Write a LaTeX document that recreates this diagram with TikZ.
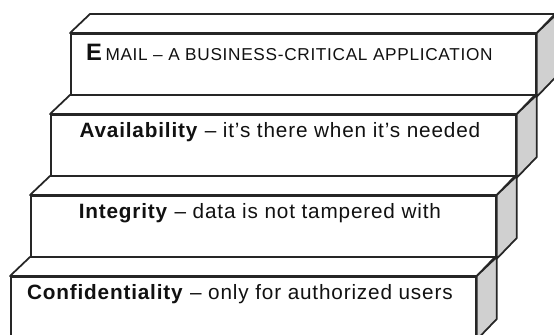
\documentclass[tikz,border=0pt]{standalone}
\usepackage{fontspec}
\setmainfont{Liberation Sans}[LetterSpace=4]
\usetikzlibrary{positioning}
\definecolor{color_edge}{HTML}{262626}
\definecolor{color_side}{HTML}{D0D0D0}
\definecolor{color_text}{HTML}{111111}
\tikzset{
  step_front/.style={draw=color_edge, line width=1pt, fill=white, minimum width=9.3cm, minimum height=1.24cm, inner sep=0pt, anchor=north west},
  step_top/.style={draw=color_edge, line width=1pt, fill=white, line join=round},
  step_side/.style={draw=color_edge, line width=1pt, fill=color_side, line join=round},
  step_text/.style={font=\fontsize{11.8}{14}\selectfont, text=color_text, inner sep=0pt},
}

\begin{document}
\begin{tikzpicture}
    \useasboundingbox (0,0) rectangle (11.08,-6.7);
    \clip (0,0) rectangle (11.08,-6.7);

    \node[step_front] (email)   at (1.40,-0.66) {};
    \node[step_front] (avail)   at (1.00,-2.28) {};
    \node[step_front] (integ)   at (0.60,-3.90) {};
    \node[step_front] (confid)  at (0.20,-5.52) {};

    \draw[step_top]  (email.north west) -- ++(0.4,0.38) -- ++(9.3,0) -- (email.north east) -- cycle;
    \draw[step_side] (email.north east) -- ++(0.4,0.38) -- ++(0,-1.24) -- (email.south east) -- cycle;
    \draw[step_top]  (avail.north west) -- ++(0.4,0.38) -- ++(9.3,0) -- (avail.north east) -- cycle;
    \draw[step_side] (avail.north east) -- ++(0.4,0.38) -- ++(0,-1.24) -- (avail.south east) -- cycle;
    \draw[step_top]  (integ.north west) -- ++(0.4,0.38) -- ++(9.3,0) -- (integ.north east) -- cycle;
    \draw[step_side] (integ.north east) -- ++(0.4,0.38) -- ++(0,-1.24) -- (integ.south east) -- cycle;
    \draw[step_top]  (confid.north west) -- ++(0.4,0.38) -- ++(9.3,0) -- (confid.north east) -- cycle;
    \draw[step_side] (confid.north east) -- ++(0.4,0.38) -- ++(0,-1.24) -- (confid.south east) -- cycle;

    \node[step_text] (email_text)  at ([xshift=-0.28cm, yshift=-0.38cm]email.north)
        {{\bfseries\fontsize{13.5}{15}\selectfont E}\,{\fontsize{9.8}{11}\selectfont MAIL – A BUSINESS-CRITICAL APPLICATION}};
    \node[step_text] (avail_text)  at ([xshift=-0.07cm, yshift=-0.36cm]avail.north)  {\textbf{Availability} – it's there when it's needed};
    \node[step_text] (integ_text)  at ([xshift=-0.07cm, yshift=-0.36cm]integ.north)  {\textbf{Integrity} – data is not tampered with};
    \node[step_text] (confid_text) at ([xshift=-0.07cm, yshift=-0.36cm]confid.north) {\textbf{Confidentiality} – only for authorized users};
  \end{tikzpicture}
\end{document}
